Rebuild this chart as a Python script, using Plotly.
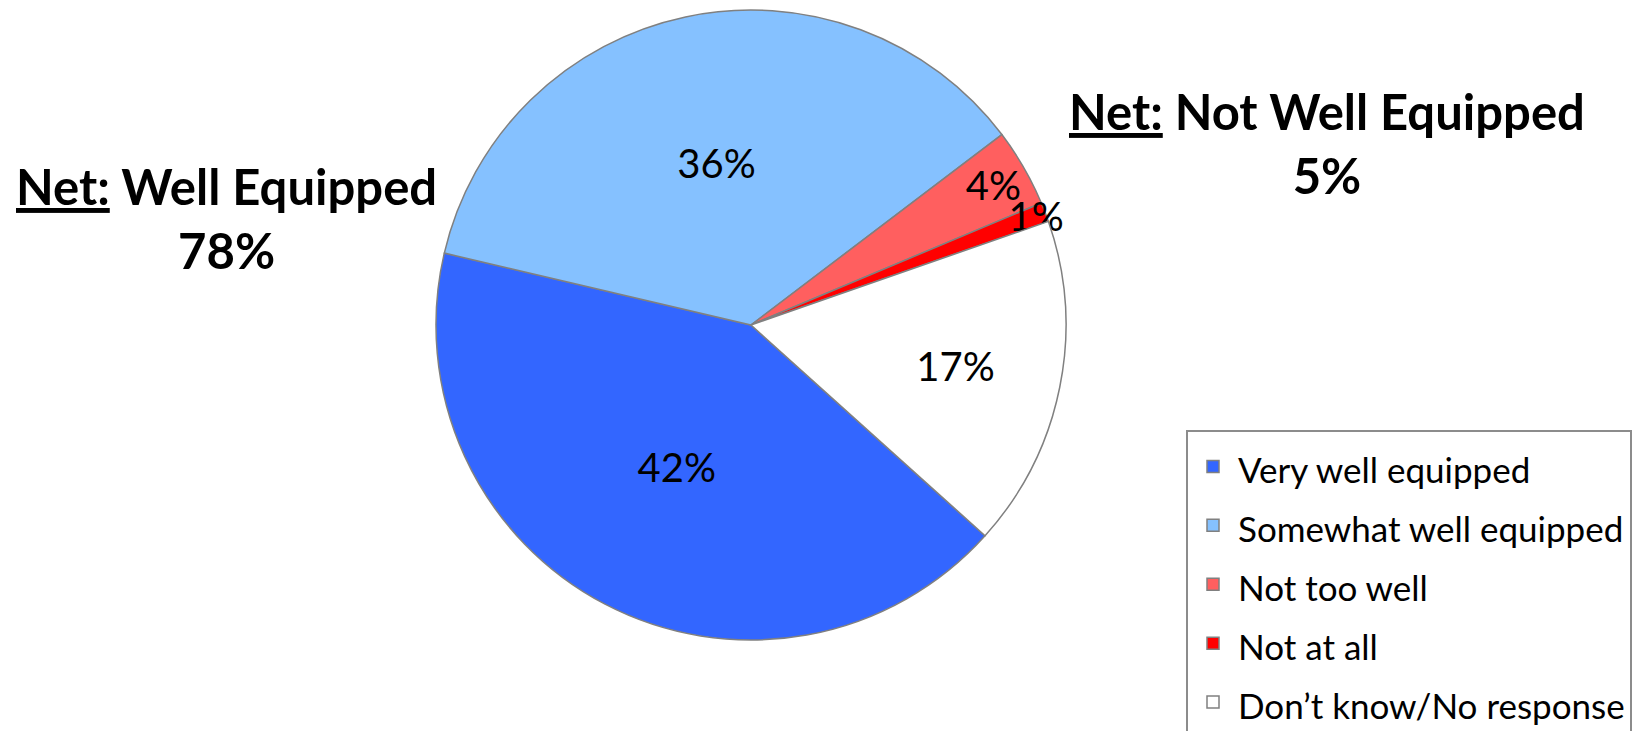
import plotly.graph_objects as go

categories = ["Very well equipped", "Somewhat well equipped", "Not too well", "Not at all", "Don’t know/No response"]
values = [42, 36, 4, 1, 17]
colors = ["#3366FF", "#85C1FF", "#FF5F5F", "#FF0000", "#FFFFFF"]
net_labels = ["<u>Net:</u> Well Equipped", "<u>Net:</u> Not Well Equipped"]
net_values = [78, 5]

FONT = "Lato"
legend_labels = ['<span style="font-size:35px">%s</span>' % c for c in categories]

fig = go.Figure(go.Pie(
    labels=legend_labels,
    values=values,
    sort=False,
    direction="clockwise",
    rotation=132,
    marker=dict(colors=colors, line=dict(color="#808080", width=1.5)),
    texttemplate="%{value}%",
    textposition="inside",
    insidetextorientation="horizontal",
    textfont=dict(family=FONT, size=40, color="black"),
    hoverinfo="label+percent",
    domain=dict(x=[0.2655, 0.6492], y=[0.1245, 0.9863]),
))

fig.update_layout(
    width=1642, height=731,
    margin=dict(l=0, r=0, t=0, b=0, autoexpand=False),
    paper_bgcolor="white",
    plot_bgcolor="white",
    font=dict(family=FONT, color="black"),
    uniformtext=dict(minsize=40, mode="show"),
    showlegend=True,
    legend=dict(
        x=1186 / 1642, y=1 - 430 / 731, xanchor="left", yanchor="top",
        font=dict(family=FONT, size=43, color="black"),
        bordercolor="#8c8c8c", borderwidth=2, bgcolor="white",
        traceorder="normal", itemwidth=40,
    ),
    annotations=[
        dict(text="<b>%s</b><br><b>%d%%</b>" % (net_labels[0], net_values[0]),
             x=226 / 1642, y=1 - 218 / 731, xref="paper", yref="paper",
             xanchor="center", yanchor="middle",
             showarrow=False, font=dict(family=FONT, size=49, color="black"),
             align="center"),
        dict(text="<b>%s</b><br><b>%d%%</b>" % (net_labels[1], net_values[1]),
             x=1327 / 1642, y=1 - 143 / 731, xref="paper", yref="paper",
             xanchor="center", yanchor="middle",
             showarrow=False, font=dict(family=FONT, size=49, color="black"),
             align="center"),
    ],
)

fig.write_html("out.html", config={"displayModeBar": False},
               post_script="document.body.style.margin='0';document.body.style.overflow='hidden';")
